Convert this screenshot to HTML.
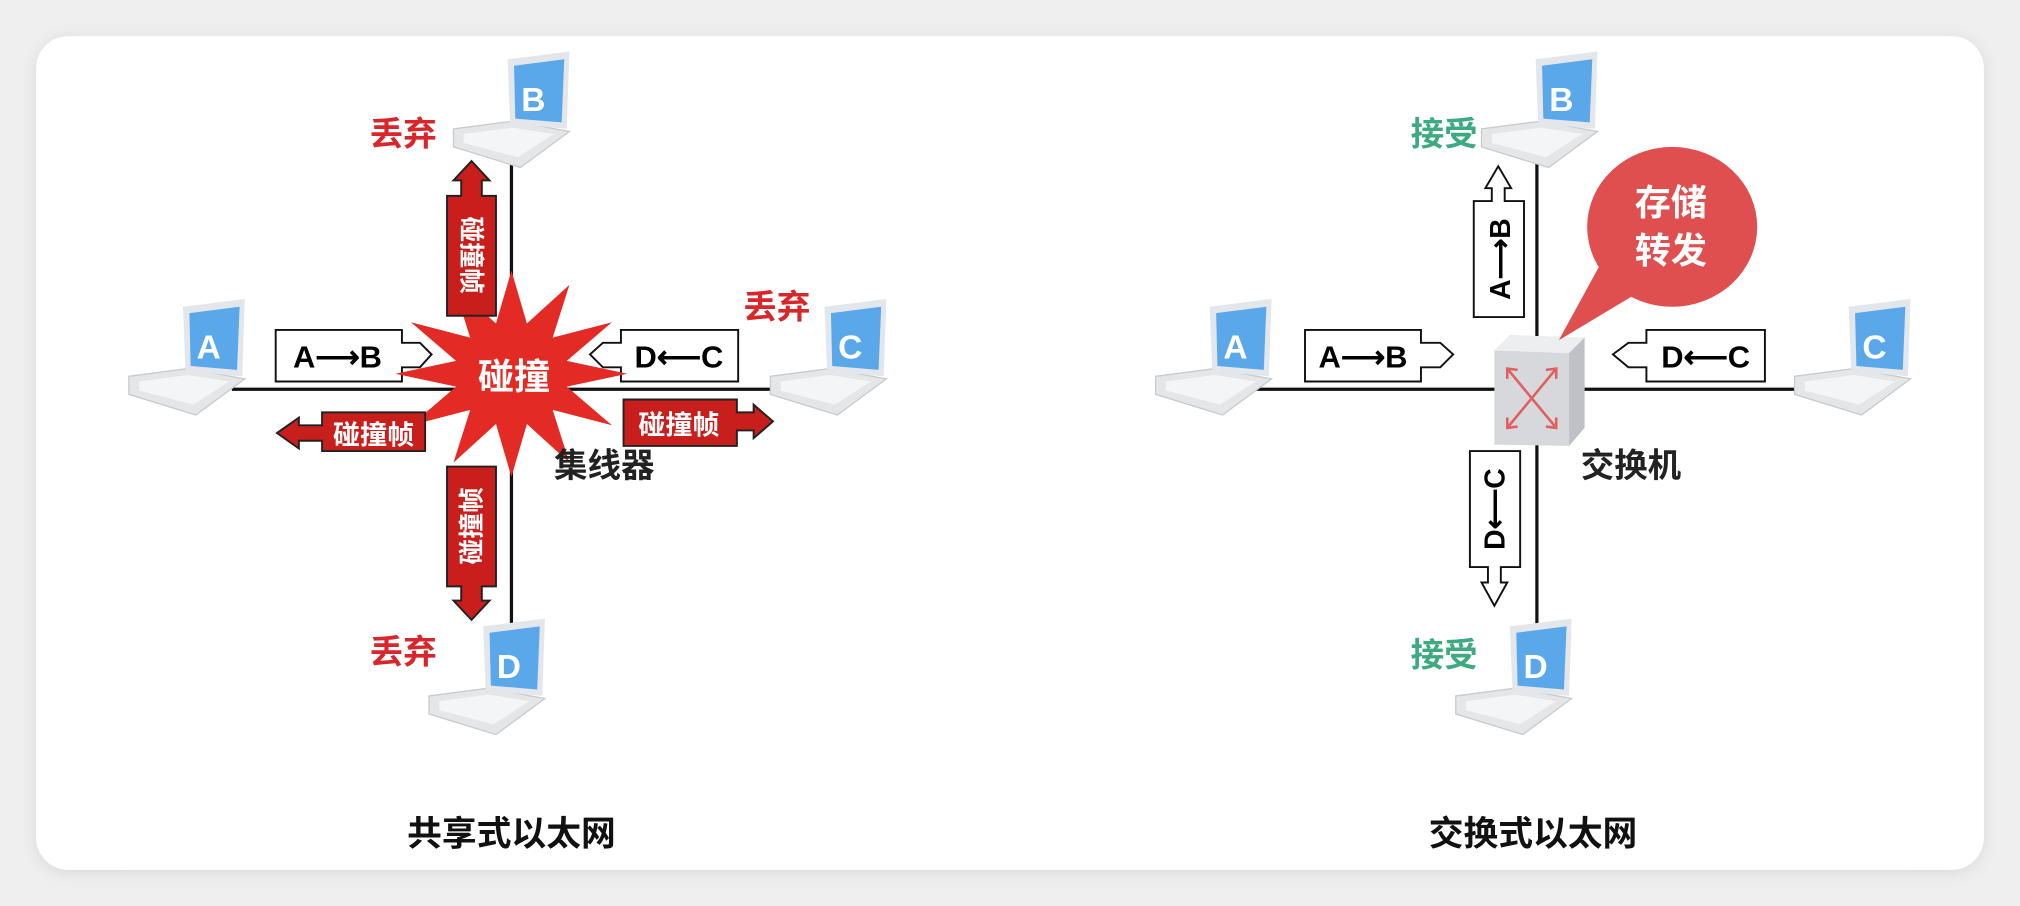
<!DOCTYPE html>
<html><head><meta charset="utf-8"><style>
html,body{margin:0;padding:0;background:#efefef;}
svg{display:block}
text{font-family:"Liberation Sans","Noto Sans CJK SC",sans-serif;font-weight:bold}
</style></head><body>
<svg width="2020" height="906" viewBox="0 0 1568 703" preserveAspectRatio="none" xmlns="http://www.w3.org/2000/svg">
<defs>
<filter id="sh" x="-5%" y="-5%" width="110%" height="110%"><feGaussianBlur stdDeviation="6"/></filter>
<g id="lap">
<polygon points="0,56 46,50 90,58 52,86 0,70" fill="#e4e6e8" stroke="#c8cacc" stroke-width="1"/>
<polygon points="8,60 46,55 78,60 50,78 8,67" fill="#f4f5f6"/>
<polygon points="42,2 90,-4 88,56 44,52" fill="#e3e7ec"/>
<polygon points="47,7 86,2 84,51 48,48" fill="#5aa8ea"/>
</g>
</defs>
<rect x="0" y="0" width="1568" height="703" fill="#efefef"/>
<rect x="28" y="30" width="1512" height="647" rx="25" fill="#d8d8d8" filter="url(#sh)"/>
<rect x="28" y="28" width="1512" height="647" rx="25" fill="#fff"/>

<!-- LEFT -->
<line x1="180" y1="302" x2="620" y2="302" stroke="#111" stroke-width="2.5"/>
<line x1="397" y1="125" x2="397" y2="485" stroke="#111" stroke-width="2.5"/>
<use href="#lap" x="100" y="236"/><text x="162" y="278" fill="#fff" font-size="26" text-anchor="middle">A</text>
<use href="#lap" x="352" y="44"/><text x="414" y="86" fill="#fff" font-size="26" text-anchor="middle">B</text>
<use href="#lap" x="598" y="236"/><text x="660" y="278" fill="#fff" font-size="26" text-anchor="middle">C</text>
<use href="#lap" x="333" y="484"/><text x="395" y="526" fill="#fff" font-size="26" text-anchor="middle">D</text>
<text x="313" y="113" fill="#d8262a" font-size="26" text-anchor="middle">丢弃</text>
<text x="603" y="247" fill="#d8262a" font-size="26" text-anchor="middle">丢弃</text>
<text x="313" y="515" fill="#d8262a" font-size="26" text-anchor="middle">丢弃</text>

<polygon points="214,256 312,256 312,266 326,266 335,275 326,285 312,285 312,296 214,296" fill="#fff" stroke="#111" stroke-width="1.5"/>
<text x="262" y="285" font-size="24" text-anchor="middle">A⟶B</text>
<polygon points="573,256 482,256 482,266 468,266 458,275 468,285 482,285 482,296 573,296" fill="#fff" stroke="#111" stroke-width="1.5"/>
<text x="527" y="285" font-size="24" text-anchor="middle">D⟵C</text>

<polygon points="487,290 440,300 475,330 429,318 442,359 409,329 397,370 385,329 352,359 365,318 319,330 354,300 307,290 354,280 319,250 365,262 352,221 385,251 397,210 409,251 442,221 429,262 475,250 440,280" fill="#e42a24"/>
<text x="399" y="302" fill="#fff" font-size="28" text-anchor="middle">碰撞</text>

<polygon points="330,320 250,320 250,330 232,330 232,324 215,336 232,348 232,342 250,342 250,350 330,350" fill="#c81e1c" stroke="#222" stroke-width="1.5"/>
<text x="290" y="345" fill="#fff" font-size="21" text-anchor="middle">碰撞帧</text>
<polygon points="484,310 572,310 572,320 585,320 585,314 600,327 585,340 585,334 572,334 572,346 484,346" fill="#c81e1c" stroke="#222" stroke-width="1.5"/>
<text x="527" y="337" fill="#fff" font-size="21" text-anchor="middle">碰撞帧</text>
<polygon points="347,245 347,152 358,152 358,140 352,140 366,125 380,140 374,140 374,152 385,152 385,245" fill="#c81e1c" stroke="#222" stroke-width="1.5"/>
<text transform="translate(366,198) rotate(90)" fill="#fff" font-size="20" text-anchor="middle" dy="7">碰撞帧</text>
<polygon points="347,362 347,455 358,455 358,466 352,466 366,481 380,466 374,466 374,455 385,455 385,362" fill="#c81e1c" stroke="#222" stroke-width="1.5"/>
<text transform="translate(366,408) rotate(-90)" fill="#fff" font-size="20" text-anchor="middle" dy="7">碰撞帧</text>
<text x="469" y="370" font-size="26" text-anchor="middle" fill="#222">集线器</text>
<text x="397" y="656" font-size="27" text-anchor="middle" fill="#111">共享式以太网</text>

<!-- RIGHT -->
<line x1="975" y1="302" x2="1415" y2="302" stroke="#111" stroke-width="2.5"/>
<line x1="1193" y1="125" x2="1193" y2="485" stroke="#111" stroke-width="2.5"/>
<use href="#lap" x="897" y="236"/><text x="959" y="278" fill="#fff" font-size="26" text-anchor="middle">A</text>
<use href="#lap" x="1150" y="44"/><text x="1212" y="86" fill="#fff" font-size="26" text-anchor="middle">B</text>
<use href="#lap" x="1393" y="236"/><text x="1455" y="278" fill="#fff" font-size="26" text-anchor="middle">C</text>
<use href="#lap" x="1130" y="484"/><text x="1192" y="526" fill="#fff" font-size="26" text-anchor="middle">D</text>
<text x="1121" y="113" fill="#3daa82" font-size="26" text-anchor="middle">接受</text>
<text x="1121" y="517" fill="#3daa82" font-size="26" text-anchor="middle">接受</text>

<polygon points="1013,256 1103,256 1103,266 1118,266 1128,275 1118,285 1103,285 1103,296 1013,296" fill="#fff" stroke="#111" stroke-width="1.5"/>
<text x="1058" y="285" font-size="24" text-anchor="middle">A⟶B</text>
<polygon points="1370,256 1278,256 1278,266 1264,266 1252,275 1264,285 1278,285 1278,296 1370,296" fill="#fff" stroke="#111" stroke-width="1.5"/>
<text x="1324" y="285" font-size="24" text-anchor="middle">D⟵C</text>
<polygon points="1144,246 1144,156 1158,156 1158,146 1153,146 1163,129 1173,146 1168,146 1168,156 1183,156 1183,246" fill="#fff" stroke="#111" stroke-width="1.5"/>
<text transform="translate(1164,201) rotate(-90)" font-size="22" text-anchor="middle" dy="8">A⟶B</text>
<polygon points="1141,350 1141,440 1155,440 1155,452 1150,452 1160,470 1170,452 1165,452 1165,440 1180,440 1180,350" fill="#fff" stroke="#111" stroke-width="1.5"/>
<text transform="translate(1160,395) rotate(-90)" font-size="22" text-anchor="middle" dy="8">D⟵C</text>

<polygon points="1160,272 1172,260 1230,262 1230,332 1218,346 1160,345" fill="#d7d8dc"/>
<polygon points="1160,272 1172,260 1230,262 1218,274" fill="#eceef0"/>
<polygon points="1218,274 1230,262 1230,332 1218,346" fill="#bfc1c6"/>
<path d="M1170,286 L1208,332 M1208,286 L1170,332" stroke="#e06060" stroke-width="2" fill="none"/>
<path d="M1170,294 L1170,286 L1178,287 M1208,294 L1208,286 L1200,287 M1170,324 L1170,332 L1178,331 M1208,324 L1208,332 L1200,331" stroke="#e06060" stroke-width="2" fill="none"/>

<polygon points="1245,200 1210,264 1275,225" fill="#e04f4f"/>
<ellipse cx="1298" cy="176" rx="66" ry="62" fill="#e04f4f"/>
<text x="1297" y="167" fill="#fff" font-size="28" text-anchor="middle">存储</text>
<text x="1297" y="204" fill="#fff" font-size="28" text-anchor="middle">转发</text>
<text x="1266" y="370" font-size="26" text-anchor="middle" fill="#222">交换机</text>
<text x="1190" y="656" font-size="27" text-anchor="middle" fill="#111">交换式以太网</text>
</svg>
</body></html>
